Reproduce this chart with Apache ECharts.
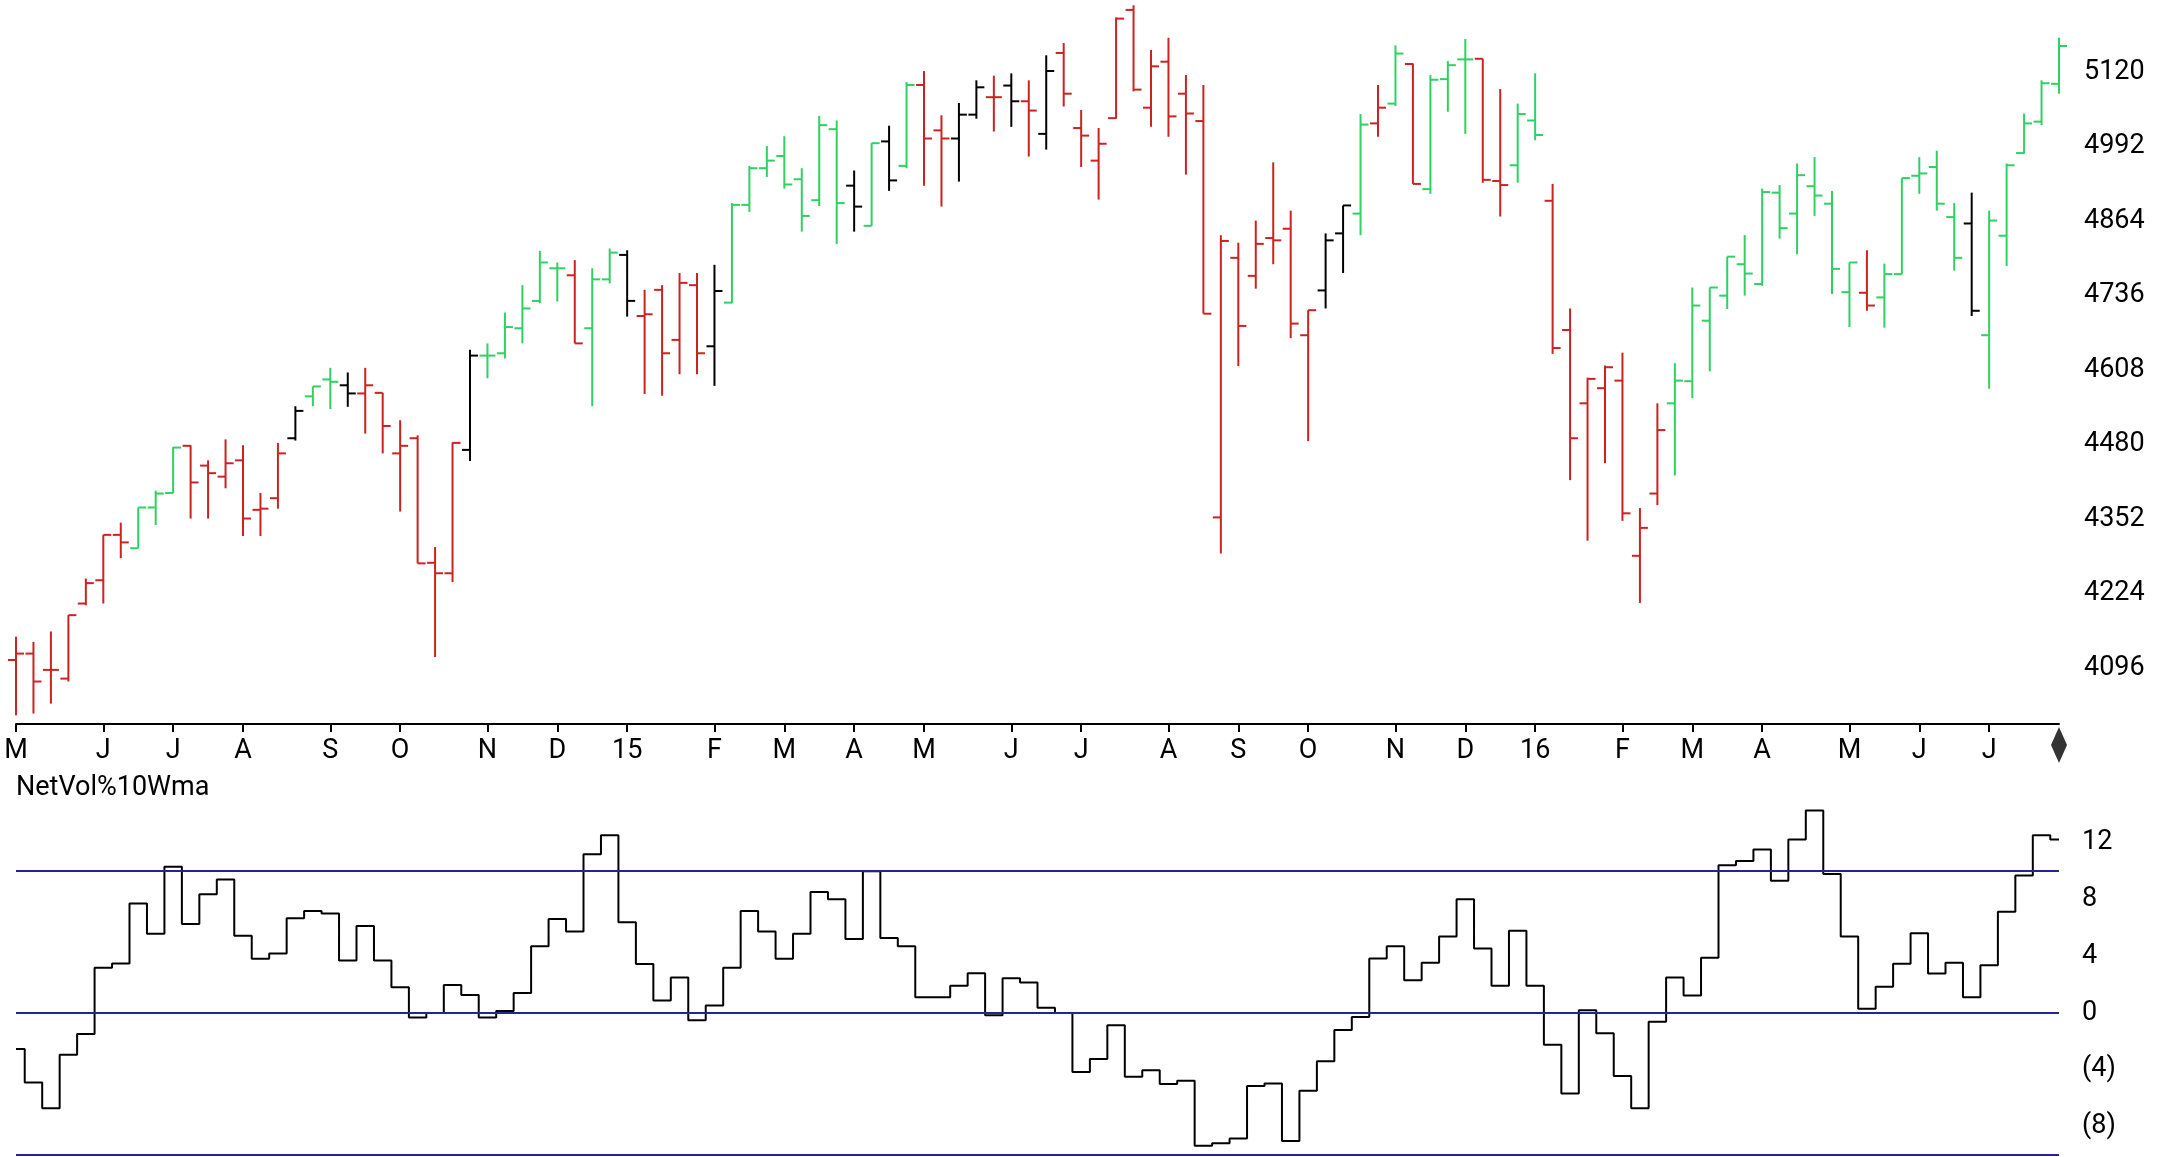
<!DOCTYPE html>
<html>
<head>
<meta charset="utf-8">
<script src="https://cdn.jsdelivr.net/npm/echarts@6/dist/echarts.min.js"></script>
<style>
html,body{margin:0;padding:0;background:#ffffff;}
#chart{width:2168px;height:1157px;}
</style>
</head>
<body>
<div id="chart"></div>
<script>
// Weekly bars (Fridays), May 2014 - Jul 2016
const weeks = [
'2014-05-02','2014-05-09','2014-05-16','2014-05-23','2014-05-30',
'2014-06-06','2014-06-13','2014-06-20','2014-06-27',
'2014-07-04','2014-07-11','2014-07-18','2014-07-25',
'2014-08-01','2014-08-08','2014-08-15','2014-08-22','2014-08-29',
'2014-09-05','2014-09-12','2014-09-19','2014-09-26',
'2014-10-03','2014-10-10','2014-10-17','2014-10-24','2014-10-31',
'2014-11-07','2014-11-14','2014-11-21','2014-11-28',
'2014-12-05','2014-12-12','2014-12-19','2014-12-26',
'2015-01-02','2015-01-09','2015-01-16','2015-01-23','2015-01-30',
'2015-02-06','2015-02-13','2015-02-20','2015-02-27',
'2015-03-06','2015-03-13','2015-03-20','2015-03-27',
'2015-04-03','2015-04-10','2015-04-17','2015-04-24',
'2015-05-01','2015-05-08','2015-05-15','2015-05-22','2015-05-29',
'2015-06-05','2015-06-12','2015-06-19','2015-06-26',
'2015-07-03','2015-07-10','2015-07-17','2015-07-24','2015-07-31',
'2015-08-07','2015-08-14','2015-08-21','2015-08-28',
'2015-09-04','2015-09-11','2015-09-18','2015-09-25',
'2015-10-02','2015-10-09','2015-10-16','2015-10-23','2015-10-30',
'2015-11-06','2015-11-13','2015-11-20','2015-11-27',
'2015-12-04','2015-12-11','2015-12-18','2015-12-25',
'2016-01-01','2016-01-08','2016-01-15','2016-01-22','2016-01-29',
'2016-02-05','2016-02-12','2016-02-19','2016-02-26',
'2016-03-04','2016-03-11','2016-03-18','2016-03-25',
'2016-04-01','2016-04-08','2016-04-15','2016-04-22','2016-04-29',
'2016-05-06','2016-05-13','2016-05-20','2016-05-27',
'2016-06-03','2016-06-10','2016-06-17','2016-06-24',
'2016-07-01','2016-07-08','2016-07-15','2016-07-22','2016-07-29'
];

const opens = [
4110,4121,4093,4078,4207,4247,4325,4302,4372,4397,
4478,4444,4425,4453,4368,4388,4491,4563,4592,4582,
4568,4569,4465,4491,4277,4259,4471,4633,4637,4680,
4727,4783,4771,4680,4764,4806,4701,4746,4660,4754,
4649,4724,4892,4955,4976,4936,4900,5022,4925,4856,
5001,4959,5098,5020,5006,5047,5077,5097,5070,5014,
5153,5024,4968,5041,5227,5059,5138,5083,5036,4355,
4801,4770,4835,4851,4668,4745,4843,4877,5032,5066,
5134,4919,5108,5142,5143,4933,4960,5037,4899,4677,
4551,4577,4590,4289,4396,4551,4589,4693,4736,4790,
4756,4913,4877,4924,4894,4742,4741,4733,4773,4942,
4957,4871,4860,4668,4839,4981,5035,5100
];
const highs = [
4150,4141,4159,4187,4250,4325,4346,4372,4401,4476,
4479,4453,4489,4479,4397,4483,4546,4580,4612,4604,
4612,4569,4522,4496,4304,4484,4643,4654,4707,4754,
4813,4793,4797,4783,4817,4814,4746,4754,4775,4775,
4789,4895,4959,4993,5010,4955,5045,5037,4951,4998,
5028,5103,5122,5046,5067,5106,5114,5118,5106,5149,
5170,5055,5024,5214,5235,5158,5179,5115,5098,4840,
4827,4865,4965,4882,4711,4843,4891,5048,5098,5166,
5135,5115,5139,5177,5143,5091,5066,5118,4928,4714,
4595,4616,4638,4371,4551,4620,4750,4750,4803,4840,
4920,4926,4963,4974,4916,4793,4814,4791,4938,4974,
4985,4895,4913,4882,4963,5049,5106,5179
];
const lows = [
4015,4018,4035,4073,4204,4207,4285,4302,4342,4397,
4353,4353,4405,4323,4323,4370,4487,4546,4541,4545,
4499,4465,4365,4276,4115,4244,4452,4594,4628,4654,
4723,4726,4654,4546,4757,4700,4567,4564,4601,4601,
4581,4723,4880,4940,4920,4846,4890,4825,4846,4856,
4916,4955,4925,4889,4932,5040,5018,5026,4975,4987,
5061,4957,4901,5040,5087,5026,5009,4944,4705,4293,
4615,4748,4790,4663,4486,4714,4775,4840,5009,5062,
4928,4911,5052,5014,4930,4872,4930,5003,4636,4419,
4315,4448,4349,4208,4376,4427,4560,4606,4713,4736,
4753,4834,4807,4873,4739,4682,4710,4681,4773,4911,
4882,4779,4701,4576,4787,4980,5029,5083
];
const closes = [
4121,4073,4093,4187,4242,4325,4312,4372,4396,4475,
4415,4431,4448,4353,4370,4465,4538,4580,4588,4568,
4582,4512,4478,4276,4259,4483,4633,4633,4682,4714,
4793,4783,4654,4764,4810,4727,4704,4637,4758,4637,
4744,4892,4955,4968,4927,4873,5029,4895,4889,4998,
4934,5098,5006,5006,5047,5094,5077,5070,5054,5122,
5083,5011,4997,5212,5090,5130,5044,5049,4705,4830,
4684,4825,4831,4688,4711,4831,4891,5030,5059,5152,
4928,5107,5132,5142,4935,4926,5048,5012,4646,4491,
4593,4613,4362,4337,4505,4590,4719,4750,4803,4774,
4914,4852,4943,4908,4782,4793,4719,4773,4938,4946,
4894,4801,4710,4865,4960,5032,5101,5165
];
// bar signal: 1 = up (green), -1 = down (red), 0 = neutral (black)
const trend = [
-1,-1,-1,-1,-1,-1,-1, 1, 1, 1,
-1,-1,-1,-1,-1,-1, 0, 1, 1, 0,
-1,-1,-1,-1,-1,-1, 0, 1, 1, 1,
 1, 1,-1, 1, 1, 0,-1,-1,-1,-1,
 0, 1, 1, 1, 1, 1, 1, 1, 0, 1,
 0, 1,-1,-1, 0, 0,-1, 0,-1, 0,
-1,-1,-1,-1,-1,-1,-1,-1,-1,-1,
-1,-1,-1,-1,-1, 0, 0, 1,-1, 1,
-1, 1, 1, 1,-1,-1, 1, 1,-1,-1,
-1,-1,-1,-1,-1, 1, 1, 1, 1, 1,
 1, 1, 1, 1, 1, 1,-1, 1, 1, 1,
 1, 1, 0, 1, 1, 1, 1, 1
];
const netVol = [
-2.55,-4.91,-6.71,-2.94,-1.48,3.19,3.49,7.71,5.58,10.30,
6.27,8.36,9.40,5.44,3.82,4.19,6.67,7.18,7.01,3.70,
6.13,3.70,1.81,-0.32,0.00,1.97,1.27,-0.32,0.14,1.41,
4.70,6.62,5.74,11.18,12.52,6.39,3.45,0.88,2.50,-0.51,
0.53,3.19,7.18,5.74,3.82,5.58,8.52,8.01,5.21,9.98,
5.28,4.70,1.11,1.11,1.92,2.80,-0.16,2.45,2.15,0.37,
0.00,-4.17,-3.24,-0.86,-4.49,-4.03,-5.00,-4.77,-9.35,-9.19,
-8.84,-5.14,-4.98,-9.03,-5.49,-3.40,-1.20,-0.28,3.84,4.70,
2.31,3.54,5.39,8.01,4.54,1.92,5.79,1.92,-2.25,-5.67,
0.19,-1.44,-4.45,-6.71,-0.63,2.50,1.23,3.89,10.41,10.71,
11.52,9.31,12.22,14.26,9.79,5.39,0.30,1.85,3.47,5.62,
2.78,3.54,1.11,3.36,7.13,9.68,12.52,12.22
];
const priceTicks = [4096,4224,4352,4480,4608,4736,4864,4992,5120];
const netVolTicks = [12,8,4,0,-4,-8];
const netVolBands = [10,0,-10];
const monthLetters = ['J','F','M','A','M','J','J','A','S','O','N','D'];
const priceMin = 4000, priceMax = 5244;
const netVolMin = -10.15, netVolMax = 15;

const FONT = "Roboto, 'DejaVu Sans', sans-serif";
const colorOf = {'1':'#2fd162','-1':'#cc2222','0':'#000000'};

function monthOf(d){ return parseInt(d.substr(5,2),10); }
function isMonthStart(i){ return i === 0 || monthOf(weeks[i]) !== monthOf(weeks[i-1]); }
function monthLabel(d){
  const m = monthOf(d);
  return m === 1 ? d.substr(2,2) : monthLetters[m-1];
}

const ohlcData = weeks.map((w,i)=>[i, opens[i], closes[i], lows[i], highs[i], trend[i]]);

const chart = echarts.init(document.getElementById('chart'));
chart.setOption({
  animation:false,
  backgroundColor:'#ffffff',
  title:{
    text:'NetVol%10Wma', left:16, top:775, padding:0,
    textStyle:{fontFamily:FONT, fontSize:27, fontWeight:'normal', color:'#000'}
  },
  grid:[
    {left:16, right:109, top:0, bottom:433},
    {left:16, right:109, top:800, bottom:0}
  ],
  xAxis:[
    {
      gridIndex:0, type:'category', data:weeks, boundaryGap:false,
      axisLine:{show:true, lineStyle:{color:'#000', width:2}},
      axisTick:{show:true, length:8, lineStyle:{color:'#000', width:2}, interval:(i)=>isMonthStart(i)},
      axisLabel:{interval:(i)=>isMonthStart(i), formatter:(v)=>monthLabel(v), color:'#000',
        fontFamily:FONT, fontSize:27, margin:14},
      splitLine:{show:false}
    },
    {
      gridIndex:1, type:'category', data:weeks, boundaryGap:false, show:false
    }
  ],
  yAxis:[
    {
      gridIndex:0, type:'value', position:'right', min:priceMin, max:priceMax,
      axisLine:{show:false}, axisTick:{show:false}, splitLine:{show:false},
      axisLabel:{customValues:priceTicks, color:'#000', fontFamily:FONT, fontSize:27, margin:25, align:'left',
        formatter:(v)=>String(v)}
    },
    {
      gridIndex:1, type:'value', position:'right', min:netVolMin, max:netVolMax,
      axisLine:{show:false}, axisTick:{show:false}, splitLine:{show:false},
      axisLabel:{customValues:netVolTicks, color:'#000', fontFamily:FONT, fontSize:27, margin:23, align:'left',
        formatter:(v)=> v < 0 ? '(' + (-v) + ')' : String(v)}
    }
  ],
  series:[
    {
      type:'custom', xAxisIndex:0, yAxisIndex:0, data:ohlcData, clip:false,
      encode:{x:0, y:[1,2,3,4]},
      renderItem:function(params, api){
        const i = api.value(0);
        const o = api.coord([i, api.value(1)]);
        const c = api.coord([i, api.value(2)]);
        const l = api.coord([i, api.value(3)]);
        const h = api.coord([i, api.value(4)]);
        const col = colorOf[String(api.value(5))];
        const st = {stroke:col, lineWidth:2};
        return {type:'group', children:[
          {type:'line', shape:{x1:h[0], y1:h[1], x2:l[0], y2:l[1]}, style:st},
          {type:'line', shape:{x1:o[0]-8, y1:o[1], x2:o[0], y2:o[1]}, style:st},
          {type:'line', shape:{x1:c[0], y1:c[1], x2:c[0]+8, y2:c[1]}, style:st}
        ]};
      }
    },
    {
      type:'scatter', xAxisIndex:0, yAxisIndex:0, clip:false, silent:true,
      data:[[weeks.length-1, priceMin]],
      symbol:'diamond', symbolSize:[16,36], symbolOffset:[0,21],
      itemStyle:{color:'#000'}
    },
    {
      type:'line', xAxisIndex:1, yAxisIndex:1, data:netVol, step:'middle',
      showSymbol:false, symbol:'none', silent:true,
      lineStyle:{color:'#000', width:2},
      markLine:{
        silent:true, symbol:['none','none'], label:{show:false},
        lineStyle:{color:'#23239a', width:2, type:'solid'},
        data:netVolBands.map(v=>({yAxis:v}))
      },
      z:3
    }
  ]
});
</script>
</body>
</html>
